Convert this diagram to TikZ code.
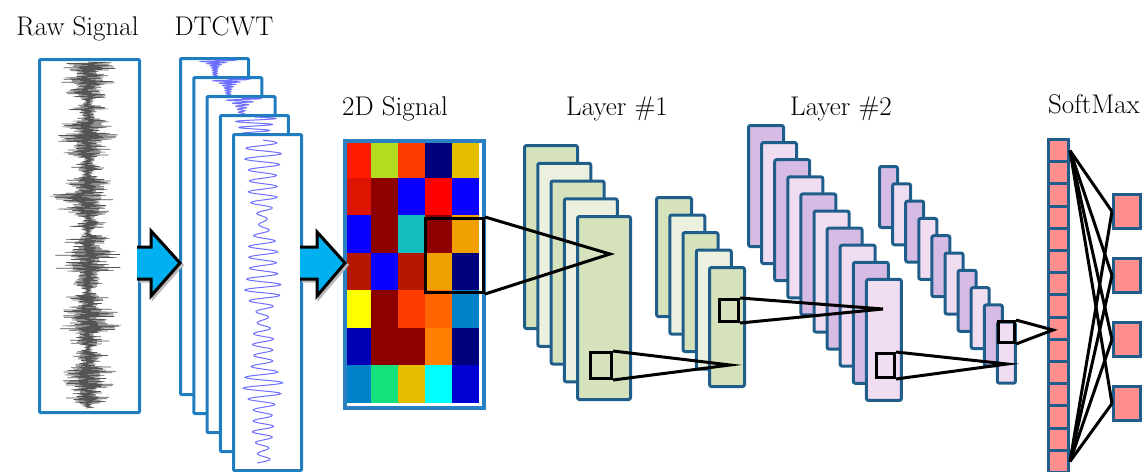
\documentclass[tikz,border=0pt]{standalone}
\definecolor{sigblue}{RGB}{31,125,192}
\definecolor{gridblue}{RGB}{41,128,195}
\definecolor{mapblue}{RGB}{31,94,138}
\definecolor{arrowcyan}{RGB}{0,176,240}
\definecolor{fmA}{RGB}{213,226,188}
\definecolor{fmB}{RGB}{235,241,222}
\definecolor{lilA}{RGB}{214,187,229}
\definecolor{lilB}{RGB}{240,221,241}
\definecolor{smred}{RGB}{255,143,143}
\definecolor{wavegray}{RGB}{85,85,85}
\definecolor{wavelil}{RGB}{110,110,255}
\definecolor{jred}{HTML}{FF1A00}
\definecolor{jlime}{HTML}{B4DC1E}
\definecolor{jorred}{HTML}{FF3C00}
\definecolor{jnavy}{HTML}{00007A}
\definecolor{jgold}{HTML}{E6BE00}
\definecolor{jdred}{HTML}{DC1400}
\definecolor{jmaroon}{HTML}{8C0000}
\definecolor{jblue}{HTML}{0A00FF}
\definecolor{jpred}{HTML}{FF0000}
\definecolor{jteal}{HTML}{14BEBE}
\definecolor{jamber}{HTML}{F0A000}
\definecolor{jbrick}{HTML}{B41800}
\definecolor{jyellow}{HTML}{FFFF00}
\definecolor{jorange}{HTML}{FF6400}
\definecolor{jtang}{HTML}{FF8000}
\definecolor{jsteel}{HTML}{0082C8}
\definecolor{jdblue}{HTML}{0000B4}
\definecolor{jgreen}{HTML}{14E07C}
\definecolor{jcyan}{HTML}{00FFFF}
\definecolor{jmblue}{HTML}{0000D2}
\begin{document}
\begin{tikzpicture}
	[x=1pt,y=-1pt,
	panel/.style={draw=sigblue,line width=3pt,fill=white,rounded corners=1pt,anchor=north west,inner sep=0pt},
	fmap/.style={draw=mapblue,line width=3pt,rounded corners=2pt,anchor=north west,inner sep=0pt},
	cell/.style={draw=mapblue,line width=3pt,fill=smred,anchor=north west,inner sep=0pt,minimum width=20pt,minimum height=22.2pt},
	win/.style={draw=black,line width=3pt,anchor=north west,inner sep=0pt},
	lbl/.style={anchor=base,inner sep=0pt,font=\fontsize{27}{32}\selectfont},
	bigarrow/.style={fill=arrowcyan,draw=black,line width=3pt,line join=miter},
	shade/.style={fill=gray!55,draw=gray!55,line width=3pt,shift={(2,2)}},
	rawwave/.style={wavegray,line width=0.6pt},
	dtwave/.style={wavelil,line width=1pt},
	link/.style={draw=black,line width=3pt}]
	\useasboundingbox(0,0)rectangle(1148,471);
	\node[lbl,name=lraw]at(77.5,35){Raw Signal};
	\node[lbl,name=ldt]at(224,35){DTCWT};
	\node[lbl,name=l2d]at(395,115){2D Signal};
	\node[lbl,name=ll1]at(617,115){Layer \#1};
	\node[lbl,name=ll2]at(841,115){Layer \#2};
	\node[lbl,name=lsm]at(1094,113){SoftMax};
	\node[panel,name=raw,minimum width=100pt,minimum height=353pt]at(38,58){};
	\pgfmathsetseed{11}
	\draw[rawwave](88,62)\foreach \k in {1,...,480}{--({88+(2*mod(\k,2)-1)*(21+9*sin(\k*4.3)+8*sin(\k*17.9))*(0.35+0.65*rnd)},{62+\k*0.721})};
	\foreach \i/\fr/\dc in {0/170/3,1/150/4,2/120/5,3/60/30}{
		\node[panel,name=dt\i,minimum width=68pt,minimum height=336pt]at({179+13.3*\i},{57+19*\i}){};
		\draw[dtwave]plot[domain=0:24,samples=160,variable=\t]({215+13.3*\i+(2+20*exp(-\t/\dc))*sin(\t*\fr)},{60+19*\i+\t});
	}
	\node[panel,name=dt4,minimum width=68pt,minimum height=336pt]at(232,133){};
	\draw[dtwave]plot[domain=0:323,samples=420,variable=\t]({263+(12+5*sin(\t*3.3)+3*sin(\t*7.7))*sin(\t*33)},{140+\t});
	\filldraw[shade](137,247)--(151,247)--(151,231)--(180,263)--(151,296)--(151,279)--(137,279);
	\filldraw[bigarrow](137,247)--(151,247)--(151,231)--(180,263)--(151,296)--(151,279)--(137,279);
	\foreach \cols [count=\r] in {{jred,jlime,jorred,jnavy,jgold},{jdred,jmaroon,jblue,jpred,jblue},{jblue,jmaroon,jteal,jmaroon,jamber},{jbrick,jblue,jbrick,jamber,jnavy},{jyellow,jmaroon,jorred,jorange,jsteel},{jdblue,jmaroon,jmaroon,jtang,jnavy},{jsteel,jgreen,jgold,jcyan,jmblue}}
		\foreach \c [count=\k] in \cols
			\fill[\c]({344+27*(\k-1)},{140+37.57*(\r-1)})rectangle+(27,37.57);
	\node[draw=gridblue,line width=4pt,anchor=north west,inner sep=0pt,minimum width=139pt,minimum height=266.5pt,name=grid]at(342.5,139){};
	\filldraw[shade](300,247)--(317,247)--(317,232)--(345,263)--(317,296)--(317,279)--(300,279);
	\filldraw[bigarrow](300,247)--(317,247)--(317,232)--(345,263)--(317,296)--(317,279)--(300,279);
	\node[win,name=w0,minimum width=58pt,minimum height=74pt]at(424,217){};
	\foreach \i/\f in {0/fmA,1/fmB,2/fmA,3/fmB,4/fmA}
		\node[fmap,name=a\i,fill=\f,minimum width=53pt,minimum height=183pt]at({523+13.25*\i},{144+17.75*\i}){};
	\foreach \i/\f in {0/fmA,1/fmB,2/fmA,3/fmB,4/fmA}
		\node[fmap,name=b\i,fill=\f,minimum width=35pt,minimum height=119pt]at({655+13.25*\i},{196+17.5*\i}){};
	\foreach \i/\f in {0/lilA,1/lilB,2/lilA,3/lilB,4/lilA,5/lilB,6/lilA,7/lilB,8/lilA,9/lilB}
		\node[fmap,name=c\i,fill=\f,minimum width=35pt,minimum height=121pt]at({747+13.1*\i},{124+17.1*\i}){};
	\foreach \i/\f in {0/lilA,1/lilB,2/lilA,3/lilB,4/lilA,5/lilB,6/lilA,7/lilB,8/lilA,9/lilB}
		\node[fmap,name=d\i,fill=\f,minimum width=18pt,minimum height=61pt]at({878+13.1*\i},{165+17.3*\i}){};
	\foreach \i in {1,...,15}
		\node[cell,name=sm\i]at(1047,{138+22.2*(\i-1)}){};
	\foreach \i in {1,...,4}
		\node[cell,name=o\i,minimum width=27pt,minimum height=34pt]at(1112,{193+64*(\i-1)}){};
	\node[win,name=w1,minimum width=21pt,minimum height=26pt]at(589,351){};
	\node[win,name=w2,minimum width=19pt,minimum height=22pt]at(718,298){};
	\node[win,name=w3,minimum width=18pt,minimum height=24pt]at(875,352){};
	\node[win,name=w4,minimum width=16pt,minimum height=21pt]at(997,320){};
	\coordinate(t1)at(610,254);
	\coordinate(t2)at(730,365);
	\coordinate(t3)at(883,309);
	\coordinate(t4)at(1007,364);
	\coordinate(t5)at(1053,330);
	\draw[link](w0.north east)--(t1)--(w0.south east);
	\draw[link](w1.north east)--(t2)--(w1.south east);
	\draw[link](w2.north east)--(t3)--(w2.south east);
	\draw[link](w3.north east)--(t4)--(w3.south east);
	\draw[link](w4.north east)--(t5)--(w4.south east);
	\foreach \i in {1,...,4}{
		\draw[link](sm1.east)--(o\i.west);
		\draw[link](sm15.east)--(o\i.west);
	}
\end{tikzpicture}
\end{document}
